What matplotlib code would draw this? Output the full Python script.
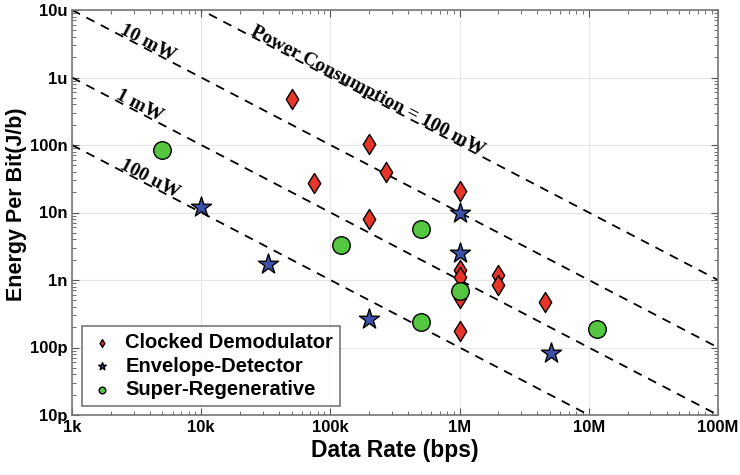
import numpy as np
import matplotlib
matplotlib.use("Agg")
import matplotlib.pyplot as plt
from matplotlib.ticker import FixedLocator, FixedFormatter, LogLocator, NullFormatter
from matplotlib.path import Path

# Data
clocked_rate = [50e3, 200e3, 75e3, 270e3, 200e3, 1e6, 1e6, 1e6, 1e6, 1e6, 2e6, 2e6, 4.6e6]
clocked_epb = [4.8e-7, 1.05e-7, 2.75e-8, 4.0e-8, 8.0e-9, 2.1e-8, 1.4e-9, 1.1e-9, 5.4e-10, 1.75e-10, 1.2e-9, 8.5e-10, 4.7e-10]

env_rate = [10e3, 33e3, 200e3, 1e6, 1e6, 5.1e6]
env_epb = [1.2e-8, 1.7e-9, 2.6e-10, 1.0e-8, 2.5e-9, 8.3e-11]

sr_rate = [5e3, 120e3, 500e3, 500e3, 1e6, 11.5e6]
sr_epb = [8.5e-8, 3.3e-9, 5.7e-9, 2.4e-10, 6.9e-10, 1.9e-10]

power_levels = [100e-6, 1e-3, 10e-3, 100e-3]
power_labels = ["100 uW", "1 mW", "10 mW", "Power Consumption = 100 mW"]
label_x = [2.3e3, 2.15e3, 2.3e3, 24e3]

x_ticks = [1e3, 1e4, 1e5, 1e6, 1e7, 1e8]
x_ticklabels = ["1k", "10k", "100k", "1M", "10M", "100M"]
y_ticks = [1e-11, 1e-10, 1e-9, 1e-8, 1e-7, 1e-6, 1e-5]
y_ticklabels = ["10p", "100p", "1n", "10n", "100n", "1u", "10u"]

plt.rcParams['font.family'] = ['Liberation Sans', 'DejaVu Sans']

fig = plt.figure(figsize=(7.4, 4.75), dpi=100)
ax = fig.add_axes([72/740, 1-415/475, (718-72)/740, (415-10)/475])
ax.set_xscale('log')
ax.set_yscale('log')
ax.set_xlim(1e3, 1e8)
ax.set_ylim(1e-11, 1e-5)

ax.grid(True, which='major', color='#e6e6e6', linewidth=0.8)
ax.set_axisbelow(True)

xr = np.array([1e3, 1e8])
for P in power_levels:
    ax.plot(xr, P / xr, linestyle=(0, (5, 4)), color='black', linewidth=1.3, zorder=2)

fig.canvas.draw()
p1 = ax.transData.transform((1e3, 1e-7))
p2 = ax.transData.transform((1e8, 1e-12))
ang = np.degrees(np.arctan2(p2[1]-p1[1], p2[0]-p1[0]))

for P, lab, lx in zip(power_levels, power_labels, label_x):
    ly = P / lx * 1.06
    ax.text(lx, ly, lab, rotation=ang, rotation_mode='anchor', ha='left', va='baseline',
            family=['Liberation Serif', 'DejaVu Serif'], fontweight='bold', fontsize=14,
            zorder=3)

diamond = Path([(0, 1), (0.62, 0), (0, -1), (-0.62, 0), (0, 1)],
               [Path.MOVETO, Path.LINETO, Path.LINETO, Path.LINETO, Path.CLOSEPOLY])
h1 = ax.scatter(clocked_rate, clocked_epb, marker=diamond, s=210, facecolor='#e8352a',
                edgecolor='black', linewidth=1.0, zorder=4, label='Clocked Demodulator')
h2 = ax.scatter(env_rate, env_epb, marker='*', s=230, facecolor='#3b52a8',
                edgecolor='black', linewidth=1.0, zorder=5, label='Envelope-Detector')
h3 = ax.scatter(sr_rate, sr_epb, marker='o', s=160, facecolor='#55c640',
                edgecolor='black', linewidth=1.0, zorder=4, label='Super-Regenerative')

leg = ax.legend([h1, h2, h3], ['Clocked Demodulator', 'Envelope-Detector', 'Super-Regenerative'],
                loc='lower left', bbox_to_anchor=(0.0155, 0.022), markerscale=0.38,
                prop={'weight': 'bold', 'size': 14.5}, fancybox=False, edgecolor='#555555',
                handletextpad=0.5, borderpad=0.35, labelspacing=0.22, handlelength=1.3,
                borderaxespad=0)
leg.get_frame().set_linewidth(1.2)

ax.xaxis.set_major_locator(FixedLocator(x_ticks))
ax.xaxis.set_major_formatter(FixedFormatter(x_ticklabels))
ax.yaxis.set_major_locator(FixedLocator(y_ticks))
ax.yaxis.set_major_formatter(FixedFormatter(y_ticklabels))
ax.xaxis.set_minor_locator(LogLocator(base=10, subs=np.arange(2, 10)))
ax.yaxis.set_minor_locator(LogLocator(base=10, subs=np.arange(2, 10)))
ax.xaxis.set_minor_formatter(NullFormatter())
ax.yaxis.set_minor_formatter(NullFormatter())
ax.tick_params(which='both', direction='in', top=True, right=True, color='#555555')
ax.tick_params(which='major', length=5, labelsize=12)
ax.tick_params(which='minor', length=3)
for t in ax.get_xticklabels() + ax.get_yticklabels():
    t.set_fontweight('bold')
for s in ax.spines.values():
    s.set_color('#777777')
    s.set_linewidth(1.2)

ax.set_xlabel('Data Rate (bps)', fontsize=16.5, fontweight='bold', labelpad=3)
ax.set_ylabel('Energy Per Bit(J/b)', fontsize=15.5, fontweight='bold')
ax.yaxis.set_label_coords(-0.07, 0.52)

fig.savefig('out.png', dpi=100)
